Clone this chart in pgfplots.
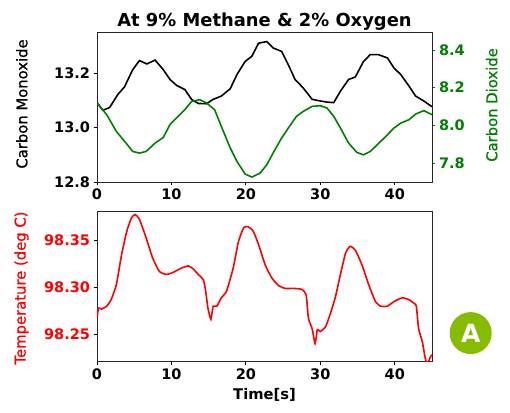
\documentclass[border=0pt]{standalone}
\usepackage{fontspec}
\setmainfont{DejaVu Sans}
\newfontfamily\labfam[FakeBold=0.7]{DejaVu Sans}
\usepackage{pgfplots}
\pgfplotsset{compat=1.18}
\definecolor{mplgreen}{RGB}{0,128,0}
\definecolor{badge}{RGB}{134,188,0}
\newcommand{\tickfont}{\fontsize{14.5bp}{17bp}\selectfont\bfseries}
\newcommand{\labfont}{\labfam\fontsize{14.8bp}{18bp}\selectfont}
\begin{document}
\begin{tikzpicture}
\useasboundingbox (0bp,0bp) rectangle (510bp,413bp);
\pgfplotsset{
  every axis/.append style={
    scale only axis, width=335bp, height=150bp,
    xmin=0, xmax=45,
    tick align=outside, major tick length=3.5bp,
    every tick/.style={line width=0.8bp},
    axis line style={line width=0.8bp, black!85},
    ticklabel style={font=\tickfont},
    /pgf/number format/assume math mode=true,
  }
}
% ---- top: carbon monoxide
\begin{axis}[
  at={(97bp,231bp)}, anchor=south west,
  ymin=12.8, ymax=13.35,
  xtick={0,10,20,30,40}, xticklabels={0,10,20,30,40},
  ytick={12.8,13.0,13.2}, yticklabels={12.8,13.0,13.2},
  xtick pos=bottom, ytick pos=left,
]
\addplot[black, line width=1.6bp] coordinates {
(0,13.091)(0.8,13.063)(1.7,13.073)(2.8,13.121)(3.7,13.149)(4.8,13.212)(5.7,13.245)(6.7,13.233)(7.8,13.247)(8.9,13.212)(9.8,13.176)(10.7,13.154)(11.8,13.139)(12.7,13.103)(13.6,13.088)(14.7,13.087)(15.6,13.103)(16.7,13.115)(17.9,13.142)(18.8,13.194)(19.9,13.242)(20.8,13.261)(21.7,13.309)(22.8,13.315)(23.7,13.291)(24.8,13.279)(25.7,13.230)(26.6,13.176)(27.7,13.145)(28.9,13.103)(30.0,13.097)(30.9,13.093)(31.8,13.091)(32.7,13.133)(33.8,13.176)(34.7,13.185)(35.8,13.242)(36.7,13.267)(37.8,13.267)(39.0,13.255)(39.9,13.218)(40.8,13.194)(41.9,13.152)(42.8,13.115)(43.9,13.097)(45.0,13.076)
};
\end{axis}
% ---- top twin: carbon dioxide
\begin{axis}[
  at={(97bp,231bp)}, anchor=south west,
  ymin=7.70, ymax=8.495,
  axis x line=none, axis y line*=right,
  ytick={7.8,8.0,8.2,8.4}, yticklabels={7.8,8.0,8.2,8.4},
  yticklabel style={text=mplgreen},
  y tick style={mplgreen},
]
\addplot[mplgreen, line width=1.6bp] coordinates {
(0,8.119)(1.3,8.057)(2.6,7.968)(3.9,7.906)(4.8,7.862)(5.7,7.853)(6.6,7.862)(7.8,7.906)(8.9,7.936)(9.8,8.004)(10.9,8.048)(11.8,8.083)(12.7,8.127)(13.8,8.136)(14.7,8.119)(15.8,8.083)(16.7,7.995)(17.9,7.880)(18.8,7.809)(19.9,7.742)(20.8,7.726)(21.9,7.747)(22.8,7.791)(23.9,7.871)(24.8,7.933)(25.7,7.986)(26.8,8.048)(27.7,8.074)(28.9,8.101)(30.0,8.104)(30.9,8.092)(31.8,8.048)(32.7,7.986)(33.8,7.906)(34.9,7.857)(35.8,7.844)(36.7,7.862)(37.8,7.903)(39.0,7.950)(39.9,7.986)(40.8,8.012)(41.9,8.030)(42.8,8.060)(43.9,8.078)(45.0,8.057)
};
\end{axis}
% ---- bottom: temperature
\begin{axis}[
  at={(97bp,51.3bp)}, anchor=south west,
  ymin=98.2207, ymax=98.381,
  xtick={0,10,20,30,40}, xticklabels={0,10,20,30,40},
  ytick={98.25,98.30,98.35}, yticklabels={98.25,98.30,98.35},
  yticklabel style={text=red},
  xtick pos=bottom, ytick pos=left,
]
\addplot[red, line width=1.6bp, smooth, tension=0.3] coordinates {
(0,98.267)(0.2,98.278)(0.6,98.277)(1.3,98.280)(1.9,98.287)(2.6,98.303)(3.3,98.335)(4.0,98.360)(4.6,98.374)(5.1,98.378)(5.7,98.373)(6.6,98.353)(7.5,98.331)(8.4,98.317)(9.3,98.314)(10.2,98.316)(11.4,98.321)(12.3,98.323)(12.9,98.320)(13.6,98.314)(14.3,98.308)(14.6,98.296)(14.9,98.278)(15.3,98.266)(15.6,98.280)(16.1,98.280)(16.7,98.289)(17.4,98.296)(18.3,98.321)(19.0,98.349)(19.7,98.364)(20.3,98.365)(21.0,98.360)(21.7,98.346)(22.6,98.324)(23.5,98.310)(24.4,98.302)(25.3,98.299)(26.4,98.299)(27.5,98.298)(28.1,98.292)(28.4,98.267)(28.9,98.256)(29.3,98.240)(29.6,98.255)(30.0,98.253)(30.7,98.258)(31.3,98.271)(32.0,98.289)(32.7,98.314)(33.4,98.337)(34.0,98.344)(34.7,98.340)(35.6,98.324)(36.5,98.303)(37.4,98.285)(38.1,98.280)(39.0,98.280)(39.9,98.285)(41.0,98.289)(41.9,98.287)(42.6,98.283)(42.9,98.280)(43.2,98.256)(43.7,98.242)(44.1,98.224)(44.4,98.219)(44.8,98.226)(45.0,98.228)
};
\end{axis}
% ---- texts
\node[anchor=base, font=\fontsize{17.9bp}{21bp}\selectfont\bfseries] at (264.5bp,386.3bp) {At 9\% Methane \& 2\% Oxygen};
\node[rotate=90, font=\labfont] at (21.8bp,309bp) {Carbon Monoxide};
\node[rotate=90, font=\labfont, text=mplgreen] at (491.7bp,308bp) {Carbon Dioxide};
\node[rotate=90, font=\labfont, text=red] at (21.5bp,125bp) {Temperature (deg C)};
\node[anchor=base, font=\fontsize{14.7bp}{17bp}\selectfont\bfseries] at (264.5bp,14bp) {Time[s]};
\fill[badge] (470.7bp,79.9bp) circle (21bp);
\node[text=white, font=\fontsize{25bp}{28bp}\selectfont\bfseries] at (470.7bp,79.9bp) {A};
\end{tikzpicture}
\end{document}
